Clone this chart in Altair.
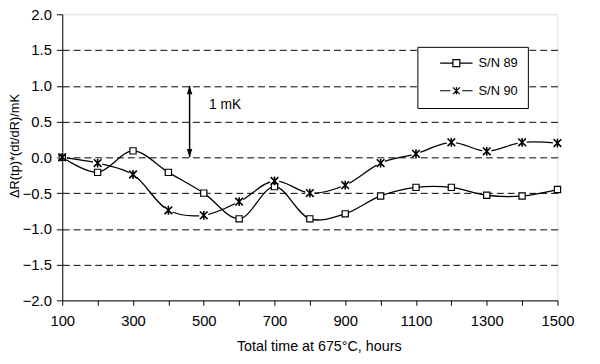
import altair as alt
import pandas as pd

# ---- data ----
hours = [100, 200, 300, 400, 500, 600, 700, 800, 900, 1000, 1100, 1200, 1300, 1400, 1500]
sn89 = [0.0, -0.21, 0.09, -0.21, -0.50, -0.86, -0.41, -0.86, -0.79, -0.54, -0.42, -0.42, -0.53, -0.54, -0.45]
sn90 = [0.0, -0.08, -0.24, -0.74, -0.81, -0.62, -0.33, -0.50, -0.39, -0.08, 0.05, 0.21, 0.085, 0.21, 0.20]
series_names = ["S/N 89", "S/N 90"]

y_ticks = [-2.0, -1.5, -1.0, -0.5, 0.0, 0.5, 1.0, 1.5, 2.0]
x_ticks = [100, 200, 300, 400, 500, 600, 700, 800, 900, 1000, 1100, 1200, 1300, 1400, 1500]

arrow_x = [460]
arrow_from = [0.0]
arrow_to = [1.0]
note_text = ["1 mK"]
note_x = [515]
note_y = [0.73]

FONT = "Liberation Sans"

rows = []
for name, vals in zip(series_names, [sn89, sn90]):
    for h, v in zip(hours, vals):
        rows.append({"hours": h, "value": v, "series": name})
df = pd.DataFrame(rows)

arrow_df = pd.DataFrame({"x": arrow_x, "y0": arrow_from, "y1": arrow_to})
note_df = pd.DataFrame({"x": note_x, "y": note_y, "text": note_text})

STAR = "M-1,-1L1,1M-1,1L1,-1M0,-1.15V1.15"
LEG89 = "M-4.7,0H-1M1,0H4.7M-1,-1H1V1H-1Z"
LEG90 = "M-4.7,0H-1.7M1.7,0H4.7M-1,-1L1,1M-1,1L1,-1M0,-1.1V1.1"
UP_HEAD = "M0,0L-1.1,3.4L1.1,3.4Z"
DOWN_HEAD = "M0,0L-1.1,-3.4L1.1,-3.4Z"

x_scale = alt.Scale(domain=[100, 1500], nice=False, zero=False)
y_scale = alt.Scale(domain=[-2, 2], nice=False, zero=False)

x_axis = alt.Axis(
    values=x_ticks,
    labelExpr="datum.value % 200 == 100 ? format(datum.value, 'd') : ''",
    title="Total time at 675°C, hours",
    grid=False,
    domainColor="black", domainWidth=1,
    tickColor="black", tickSize=5, tickWidth=1,
    labelFont=FONT, labelFontSize=15, labelColor="black", labelPadding=8,
    labelFlush=False, labelOverlap=False,
    titleFont=FONT, titleFontSize=14.5, titleFontWeight="normal", titleColor="black",
    titleX=260, titleY=51, titleBaseline="alphabetic", titleAnchor="middle",
)
y_axis = alt.Axis(
    values=y_ticks,
    format=".1f",
    title="ΔR(tp)*(dt/dR)/mK",
    grid=True, gridColor="black", gridDash=[7, 4], gridWidth=1,
    gridOpacity={"condition": {"test": "abs(datum.value) >= 2", "value": 0}, "value": 1},
    domainColor="black", domainWidth=1,
    tickColor="black", tickSize=6, tickWidth=1,
    labelFont=FONT, labelFontSize=15, labelColor="black", labelPadding=5,
    labelFlush=False, labelOverlap=False,
    titleFont=FONT, titleFontSize=13, titleFontWeight="normal", titleColor="black",
    titleX=-44, titleY=133, titleBaseline="alphabetic", titleAngle=270,
)

base = alt.Chart(df).encode(
    x=alt.X("hours:Q", scale=x_scale, axis=x_axis),
    y=alt.Y("value:Q", scale=y_scale, axis=y_axis),
)

lines = base.mark_line(interpolate="catmull-rom", color="black", strokeWidth=1.3).encode(
    detail="series:N"
)

halo = base.transform_filter(alt.datum.series == series_names[1]).mark_point(
    shape="circle", filled=True, color="white", size=90, opacity=1
)
squares = base.transform_filter(alt.datum.series == series_names[0]).mark_point(
    shape="square", filled=True, fill="white", stroke="black", strokeWidth=1.2, size=40, opacity=1
)
stars = base.transform_filter(alt.datum.series == series_names[1]).mark_point(
    shape=STAR, filled=False, stroke="black", strokeWidth=1.6, size=60, opacity=1
)

legend_layer = base.mark_point(
    filled=False, color="black", strokeWidth=1.2, size=49, opacity=1,
    yOffset=-3000, clip=True,
).encode(
    shape=alt.Shape(
        "series:N",
        scale=alt.Scale(domain=series_names, range=[LEG89, LEG90]),
        legend=alt.Legend(
            title=None, orient="none", legendX=360, legendY=33,
            padding=10, fillColor="white", strokeColor="black",
            labelFont=FONT, labelFontSize=13, labelColor="black",
            labelExpr="datum.label + '\u00a0\u00a0\u00a0'",
            symbolSize=49, symbolStrokeWidth=1.2,
            symbolStrokeColor="black", symbolOffset=23, labelOffset=16,
            rowPadding=14,
        ),
    )
)

ann_x = alt.X("x:Q", scale=x_scale, axis=x_axis)
arrow_chart = alt.Chart(arrow_df)
arrow_rule = arrow_chart.mark_rule(color="black", strokeWidth=1.5).encode(
    x=ann_x, y=alt.Y("y0:Q", scale=y_scale, axis=y_axis), y2="y1:Q"
)
arrow_top = arrow_chart.mark_point(shape=UP_HEAD, filled=True, color="black", size=25, opacity=1).encode(
    x=ann_x, y=alt.Y("y1:Q", scale=y_scale, axis=y_axis)
)
arrow_bot = arrow_chart.mark_point(shape=DOWN_HEAD, filled=True, color="black", size=25, opacity=1).encode(
    x=ann_x, y=alt.Y("y0:Q", scale=y_scale, axis=y_axis)
)
note = alt.Chart(note_df).mark_text(
    align="left", baseline="middle", font=FONT, fontSize=14, color="black"
).encode(
    x=ann_x, y=alt.Y("y:Q", scale=y_scale, axis=y_axis), text="text:N"
)

chart = alt.layer(
    lines, halo, squares, stars, legend_layer, arrow_rule, arrow_top, arrow_bot, note
).properties(
    width=502, height=290,
    autosize=alt.AutoSizeParams(type="none"),
    padding={"left": 55, "top": 4, "right": 35, "bottom": 54},
).configure_view(
    stroke="#808080", strokeWidth=1
).configure(background="white")

chart.save("out.html", embed_options={"renderer": "svg", "actions": False})
